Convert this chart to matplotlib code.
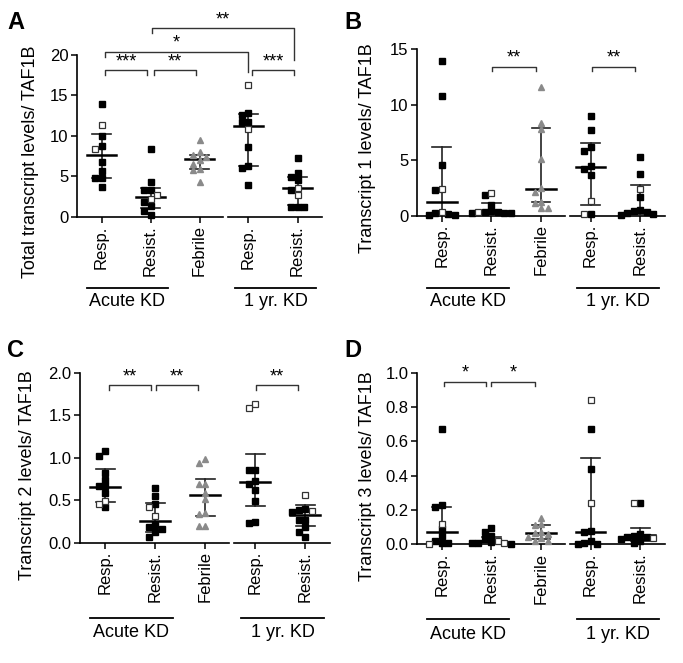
import numpy as np
import matplotlib.pyplot as plt
import matplotlib.transforms as mtransforms

plt.rcParams['font.family'] = ['Liberation Sans', 'DejaVu Sans']

W, H = 683, 663

tick_names = ['Resp.', 'Resist.', 'Febrile', 'Resp.', 'Resist.']
group_names = ['Acute KD', '1 yr. KD']

# panel A - total transcript levels (filled squares / open squares / Febrile triangles)
a_filled = [[14.0, 10.0, 8.8, 6.8, 5.7, 4.8, 4.8, 3.7],
            [8.4, 4.3, 3.3, 3.3, 1.8, 1.3, 0.8, 0.25],
            [9.5, 8.0, 7.6, 7.4, 7.0, 6.6, 5.9, 5.8, 4.3],
            [12.8, 12.6, 11.7, 11.7, 8.6, 6.3, 6.0, 3.95],
            [7.3, 5.4, 4.9, 4.6, 3.3, 1.2, 1.2, 1.2]]
a_open = [[11.4, 8.4], [2.75, 2.2], [], [16.3, 10.9], [3.6, 2.7]]
a_mid = [7.6, 2.5, 7.2, 11.2, 3.6]
a_low = [4.8, 1.1, 5.9, 6.3, 1.5]
a_high = [10.3, 3.6, 7.7, 12.7, 4.9]

# panel B - transcript 1
b_filled = [[13.9, 10.8, 4.6, 2.3, 0.2, 0.15, 0.1, 0.1],
            [1.9, 1.0, 0.4, 0.35, 0.3, 0.25, 0.2, 0.2],
            [11.6, 8.3, 7.8, 5.1, 2.5, 2.1, 1.2, 1.1, 0.72, 0.7],
            [9.0, 7.7, 6.2, 5.8, 4.5, 4.2, 3.7, 0.15],
            [5.3, 3.75, 1.7, 0.5, 0.4, 0.3, 0.2, 0.15, 0.1]]
b_open = [[2.4, 0.36], [2.0, 0.3], [], [1.3, 0.15], [2.4]]
b_mid = [1.26, 0.36, 2.4, 4.4, 0.36]
b_low = [0.1, 0.2, 1.2, 1.0, 0.1]
b_high = [6.2, 1.17, 7.9, 6.5, 2.76]

# panel C - transcript 2
c_filled = [[1.08, 1.02, 0.82, 0.74, 0.67, 0.67, 0.59, 0.42],
            [0.64, 0.55, 0.45, 0.21, 0.19, 0.16, 0.13, 0.07],
            [0.98, 0.94, 0.69, 0.69, 0.59, 0.51, 0.35, 0.34, 0.20, 0.20],
            [0.86, 0.85, 0.73, 0.69, 0.62, 0.49, 0.24, 0.23],
            [0.40, 0.38, 0.36, 0.27, 0.27, 0.19, 0.13, 0.07]]
c_open = [[0.49, 0.46], [0.42, 0.31], [], [1.63, 1.58], [0.56, 0.37]]
c_mid = [0.65, 0.26, 0.56, 0.71, 0.33]
c_low = [0.48, 0.13, 0.31, 0.43, 0.2]
c_high = [0.87, 0.47, 0.75, 1.04, 0.44]

# panel D - transcript 3
d_filled = [[0.67, 0.23, 0.22, 0.087, 0.05, 0.02, 0.01, 0.01],
            [0.093, 0.074, 0.05, 0.03, 0.015, 0.01, 0.005, 0.0],
            [0.155, 0.12, 0.115, 0.07, 0.065, 0.06, 0.04, 0.035, 0.02, 0.02],
            [0.67, 0.44, 0.08, 0.074, 0.02, 0.01, 0.0, 0.0],
            [0.24, 0.06, 0.05, 0.045, 0.04, 0.03, 0.02, 0.01]]
d_open = [[0.12, 0.0], [0.02, 0.01], [], [0.84, 0.24], [0.24, 0.035]]
d_mid = [0.07, 0.02, 0.068, 0.074, 0.054]
d_low = [0.01, 0.005, 0.03, 0.0, 0.02]
d_high = [0.22, 0.045, 0.11, 0.505, 0.097]

# significance brackets: (x1, x2, y, left leg end, right leg end, label)
a_sig = [(0.08, 0.92, 18.1, 17.5, 17.5, '***'),
         (1.08, 1.92, 18.1, 17.5, 17.5, '**'),
         (3.08, 3.92, 18.1, 17.5, 17.5, '***'),
         (0.08, 2.98, 20.4, 19.8, 17.9, '*'),
         (1.03, 3.93, 23.3, 22.7, 19.4, '**')]
b_sig = [(1.02, 1.9, 13.4, 13.0, 13.0, '**'),
         (3.02, 3.9, 13.4, 13.0, 13.0, '**')]
c_sig = [(0.08, 0.92, 1.855, 1.80, 1.80, '**'),
         (1.02, 1.86, 1.855, 1.80, 1.80, '**'),
         (3.02, 3.86, 1.855, 1.80, 1.80, '**')]
d_sig = [(0.05, 0.9, 0.948, 0.922, 0.922, '*'),
         (1.0, 1.87, 0.948, 0.922, 0.922, '*')]

fig = plt.figure(figsize=(W / 100, H / 100), dpi=100)


def swarm(ax, values, step_px=6.5, min_px=5.5):
    vals = np.asarray(values, dtype=float)
    ys = ax.transData.transform(np.column_stack([np.zeros(len(vals)), vals]))[:, 1]
    ux = ax.transData.transform((1, 0))[0] - ax.transData.transform((0, 0))[0]
    cands = [0]
    for n in range(1, 8):
        cands += [-n, n]
    placed = []
    offs = np.zeros(len(vals))
    for i in np.argsort(-vals, kind='stable'):
        for c in cands:
            x = c * step_px
            if all((x - px) ** 2 + (ys[i] - py) ** 2 >= min_px ** 2 for px, py in placed):
                break
        placed.append((x, ys[i]))
        offs[i] = x / ux
    return offs


def panel(px, ylim, yticks, fmt, filled, opened, mid, low, high, sig,
          ylabel, label_xy, letter, letter_xy, grp_off):
    left, top, right, bottom = px
    ax = fig.add_axes([left / W, 1 - bottom / H, (right - left) / W, (bottom - top) / H])
    ax.set_xlim(-0.5, 4.5)
    ax.set_ylim(*ylim)
    for s in ['top', 'right', 'bottom']:
        ax.spines[s].set_visible(False)
    ax.spines['left'].set_bounds(yticks[0], yticks[-1])
    ax.spines['left'].set_linewidth(1.2)
    ax.set_yticks(yticks)
    ax.set_yticklabels([fmt.format(t) for t in yticks])
    ax.set_xticks(range(5))
    ax.set_xticklabels(tick_names, rotation=90)
    ax.tick_params(direction='out', length=4, width=1.1, labelsize=12, pad=2)

    # split x axis
    ax.plot([-0.5, 2.48], [0, 0], color='black', lw=1.2, clip_on=False)
    ax.plot([2.58, 4.5], [0, 0], color='black', lw=1.2, clip_on=False)

    for i in range(5):
        ax.plot([i, i], [low[i], high[i]], color='#222222', lw=1.2, zorder=2)
        ax.plot([i - 0.19, i + 0.19], [low[i], low[i]], color='#222222', lw=1.2, zorder=2)
        ax.plot([i - 0.19, i + 0.19], [high[i], high[i]], color='#222222', lw=1.2, zorder=2)
        ax.plot([i - 0.3, i + 0.3], [mid[i], mid[i]], color='black', lw=1.8, zorder=2)

        vals = list(filled[i]) + list(opened[i])
        offs = swarm(ax, vals)
        nf = len(filled[i])
        if i == 2:
            ax.plot(i + offs[:nf], filled[i], ls='none', marker='^', ms=5.0,
                    color='#8a8a8a', mec='#8a8a8a', clip_on=False, zorder=3)
        else:
            ax.plot(i + offs[:nf], filled[i], ls='none', marker='s', ms=4.5,
                    color='black', clip_on=False, zorder=3)
        if opened[i]:
            ax.plot(i + offs[nf:], opened[i], ls='none', marker='s', ms=4.3,
                    mfc='white', mec='#333333', mew=0.9, clip_on=False, zorder=3)

    for x1, x2, y, yl, yr, txt in sig:
        ax.plot([x1, x1, x2, x2], [yl, y, y, yr], color='#333333', lw=1.0, clip_on=False)
        ax.annotate(txt, ((x1 + x2) / 2, y), xytext=(0, 0), textcoords='offset points',
                    ha='center', va='bottom', fontsize=13, annotation_clip=False)

    # group labels under the x axis
    tl = mtransforms.offset_copy(ax.get_xaxis_transform(), fig=fig, y=-grp_off[0], units='dots')
    tt = mtransforms.offset_copy(ax.get_xaxis_transform(), fig=fig, y=-grp_off[1], units='dots')
    for (x1, x2), name in zip([(-0.3, 1.35), (2.72, 4.38)], group_names):
        ax.plot([x1, x2], [0, 0], color='black', lw=1.3, transform=tl, clip_on=False)
        ax.text((x1 + x2) / 2, 0, name, transform=tt, ha='center', va='center', fontsize=13)

    fig.text(label_xy[0] / W, 1 - label_xy[1] / H, ylabel, rotation=90,
             ha='center', va='center', fontsize=13)
    fig.text(letter_xy[0] / W, 1 - letter_xy[1] / H, letter, fontsize=17,
             fontweight='bold', ha='left', va='baseline')
    return ax


panel((77, 22.6, 322, 217), (0, 24), [0, 5, 10, 15, 20], '{:g}',
      a_filled, a_open, a_mid, a_low, a_high, a_sig,
      'Total transcript levels/ TAF1B', (31, 162), 'A', (7, 29), (71, 85))
panel((417, 49, 665, 215.7), (0, 15), [0, 5, 10, 15], '{:g}',
      b_filled, b_open, b_mid, b_low, b_high, b_sig,
      'Transcript 1 levels/ TAF1B', (367, 148), 'B', (344, 29), (72, 86))
panel((80, 372.7, 330, 542.7), (0, 2.0), [0.0, 0.5, 1.0, 1.5, 2.0], '{:.1f}',
      c_filled, c_open, c_mid, c_low, c_high, c_sig,
      'Transcript 2 levels/ TAF1B', (28, 475), 'C', (7, 357), (75, 90))
panel((417, 372.7, 665, 544.3), (0, 1.0), [0.0, 0.2, 0.4, 0.6, 0.8, 1.0], '{:.1f}',
      d_filled, d_open, d_mid, d_low, d_high, d_sig,
      'Transcript 3 levels/ TAF1B', (367, 476), 'D', (344, 357), (75, 90))

fig.savefig('out.png', dpi=100)
